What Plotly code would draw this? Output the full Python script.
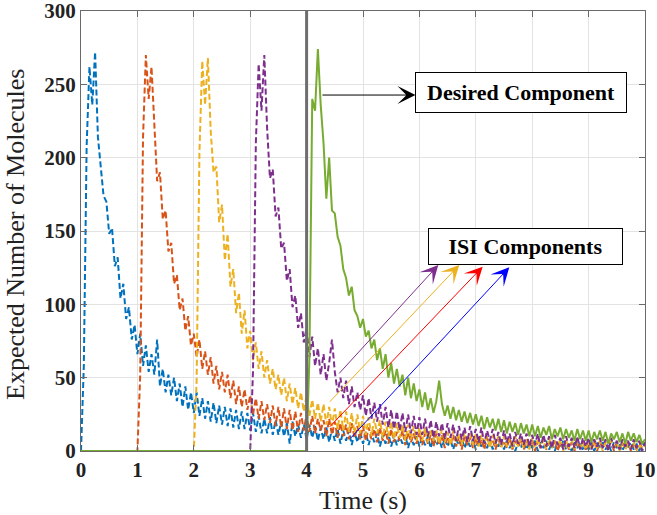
import plotly.graph_objects as go

# ---------------- data ----------------
dt = 0.05  # sampling step (s)

start_times = [0, 1, 2, 3, 4]
series_names = ["ISI 1", "ISI 2", "ISI 3", "ISI 4", "Desired"]

blue_vals = [
    0, 58, 208, 262, 236, 272, 214, 196, 174, 170, 148, 152, 126, 132, 104, 114, 90, 98, 76, 86,
    66, 80, 58, 72, 54, 66, 52, 76, 44, 56, 40, 52, 38, 50, 34, 46, 30, 44, 28, 40,
    26, 40, 24, 36, 22, 34, 20, 33, 19, 31, 18, 30, 17, 29, 16, 28, 15, 27, 15, 26,
    14, 26, 13, 24, 12, 22, 12, 23, 11, 21, 11, 20, 10, 19, 5, 20, 10, 18, 9, 18,
    8, 18, 9, 17, 7, 16, 8, 16, 6, 15, 7, 15, 5, 14, 7, 14, 4, 13, 6, 13,
    5, 13, 4, 12, 6, 12, 3, 11, 5, 12, 3, 11, 4, 10, 5, 11, 2, 10, 4, 10,
    3, 9, 4, 10, 2, 9, 4, 8, 2, 9, 3, 8, 1, 8, 4, 9, 2, 7, 3, 8,
    1, 8, 3, 7, 2, 8, 1, 7, 3, 8, 1, 7, 2, 7, 0, 6, 2, 7, 1, 6,
    2, 7, 0, 6, 2, 7, 1, 6, 0, 6, 2, 7, 1, 5, 0, 6, 2, 6, 0, 5,
    1, 6, 0, 5, 3, 6, 1, 5, 0, 6, 2, 5, 0, 5, 3, 6, 1, 5, 0, 6, 3,
]

orange_vals = [
    0, 52, 214, 270, 240, 262, 222, 184, 190, 158, 164, 136, 142, 114, 120, 96, 104, 82, 92, 72,
    80, 64, 76, 56, 68, 52, 64, 46, 58, 42, 54, 40, 52, 36, 48, 32, 44, 30, 42, 28,
    38, 25, 36, 22, 34, 21, 32, 19, 31, 17, 30, 16, 29, 15, 28, 14, 27, 13, 26, 14,
    25, 13, 24, 12, 22, 14, 21, 10, 22, 11, 20, 9, 19, 10, 18, 8, 19, 9, 17, 8,
    17, 7, 16, 8, 15, 6, 16, 7, 14, 5, 15, 6, 13, 7, 14, 4, 13, 6, 12, 5,
    13, 4, 12, 5, 11, 3, 12, 4, 11, 2, 10, 4, 11, 3, 10, 1, 10, 4, 9, 2,
    9, 3, 8, 1, 9, 4, 8, 1, 8, 3, 7, 2, 9, 1, 7, 3, 8, 1, 7, 2,
    8, 0, 7, 2, 8, 1, 6, 3, 7, 0, 6, 2, 7, 1, 6, 0, 7, 2, 6, 1,
    6, 1, 7, 0, 6, 2, 6, 1, 7, 0, 6, 1, 5, 2, 6, 0, 5, 1, 6, 2, 4,
]

yellow_vals = [
    0, 48, 204, 266, 236, 268, 218, 190, 194, 156, 168, 130, 148, 112, 124, 94, 108, 80, 96, 70,
    82, 62, 74, 56, 68, 50, 62, 46, 56, 42, 52, 38, 50, 34, 46, 32, 43, 29, 40, 27,
    38, 24, 35, 22, 33, 20, 32, 18, 30, 17, 29, 15, 28, 14, 27, 13, 26, 12, 25, 12,
    24, 11, 23, 10, 22, 12, 21, 9, 20, 10, 20, 8, 19, 9, 18, 7, 18, 8, 17, 7,
    16, 7, 16, 6, 15, 7, 14, 5, 15, 6, 13, 4, 14, 6, 12, 4, 13, 5, 12, 4,
    12, 3, 11, 5, 10, 2, 11, 4, 10, 2, 10, 3, 9, 1, 10, 3, 9, 2, 9, 1,
    9, 2, 8, 3, 8, 1, 9, 2, 7, 3, 8, 0, 7, 2, 8, 1, 7, 2, 6, 1,
    7, 1, 6, 2, 7, 0, 6, 1, 7, 2, 6, 0, 6, 1, 5, 2, 6, 0, 5, 1, 4,
]

purple_vals = [
    0, 55, 210, 264, 232, 270, 220, 186, 192, 160, 166, 138, 142, 116, 124, 98, 106, 84, 94, 74,
    84, 64, 78, 58, 70, 52, 66, 48, 60, 76, 54, 40, 50, 36, 48, 32, 44, 30, 40, 28,
    38, 24, 36, 22, 33, 20, 32, 18, 30, 16, 28, 15, 27, 14, 26, 13, 25, 12, 24, 11,
    23, 11, 22, 10, 21, 9, 20, 10, 19, 8, 19, 9, 18, 7, 17, 8, 16, 6, 17, 7,
    15, 6, 16, 5, 14, 7, 15, 5, 13, 4, 14, 6, 12, 3, 13, 5, 12, 4, 12, 3,
    11, 4, 12, 2, 11, 3, 10, 2, 11, 4, 9, 1, 10, 3, 9, 2, 10, 1, 9, 3,
    9, 1, 8, 3, 9, 2, 8, 0, 9, 2, 7, 1, 8, 3, 7, 1, 8, 2, 7, 0, 6,
]

green_vals = [
    0, 64, 240, 232, 274, 236, 210, 172, 200, 164, 162, 146, 140, 124, 118, 106, 112, 96, 92, 84,
    90, 78, 82, 70, 76, 62, 70, 56, 66, 50, 60, 46, 56, 44, 52, 38, 50, 36, 46, 34,
    42, 30, 40, 28, 36, 26, 34, 48, 32, 24, 31, 22, 30, 21, 28, 20, 27, 19, 26, 18,
    25, 17, 24, 15, 23, 16, 22, 14, 22, 13, 21, 12, 20, 13, 19, 11, 19, 12, 18, 10,
    18, 10, 17, 9, 16, 11, 17, 8, 15, 10, 16, 8, 15, 9, 14, 7, 15, 8, 14, 7,
    14, 6, 13, 8, 14, 7, 13, 5, 12, 8, 13, 6, 12, 5, 13, 7, 12, 6, 11, 5, 8,
]

series_values = [blue_vals, orange_vals, yellow_vals, purple_vals, green_vals]

x_ticks = [0, 1, 2, 3, 4, 5, 6, 7, 8, 9, 10]
y_ticks = [0, 50, 100, 150, 200, 250, 300]

# ---------------- styles ----------------
colors = ["#0072BD", "#D95319", "#EDB120", "#7E2F8E", "#77AC30"]
dashes = ["6px,3px", "6px,3px", "6px,3px", "6px,3px", "solid"]
serif = "Liberation Serif"
axis_col = "#6a6a6a"

fig = go.Figure()
for name, st, vals, col, dsh in zip(series_names, start_times, series_values, colors, dashes):
    xs = [st + i * dt for i in range(len(vals))]
    ys = list(vals)
    if st > 0:
        xs = [0] + xs
        ys = [0] + ys
    fig.add_trace(go.Scatter(x=xs, y=ys, mode="lines", name=name,
                             line=dict(color=col, width=2, dash=dsh),
                             showlegend=False, hoverinfo="skip"))

# vertical marker at t = 4 s (start of desired symbol)
fig.add_shape(type="line", x0=4, x1=4, y0=0, y1=300, xref="x", yref="y",
              line=dict(color="#6e6e6e", width=3))

annotations = []
# y-axis title
annotations.append(dict(x=-0.1152, y=0.491, xref="paper", yref="paper",
                        text="Expected Number of Molecules", textangle=-90,
                        showarrow=False, xanchor="center", yanchor="middle",
                        font=dict(family=serif, size=26, color="#222")))
# Desired component label + arrow
annotations.append(dict(x=7.796, y=244.1, xref="x", yref="y", text="Desired Component",
                        showarrow=False, font=dict(family=serif, size=22, color="black", weight="bold"),
                        bgcolor="white", bordercolor="black", borderwidth=1,
                        width=208, height=37, align="center", valign="middle"))
annotations.append(dict(x=5.93, y=242.7, ax=4.255, ay=242.7, xref="x", yref="y",
                        axref="x", ayref="y", text="", showarrow=True,
                        arrowhead=3, arrowsize=3, arrowwidth=1, arrowcolor="black"))
# ISI label + arrows
annotations.append(dict(x=7.88, y=139.4, xref="x", yref="y", text="ISI Components",
                        showarrow=False, font=dict(family=serif, size=22, color="black", weight="bold"),
                        bgcolor="white", bordercolor="black", borderwidth=1,
                        width=191, height=33, align="center", valign="middle"))
isi_arrows = [
    (6.335, 126.8, 4.551, 51.8, "#7E2F8E"),
    (6.707, 126.8, 4.385, 32.5, "#EDB120"),
    (7.122, 125.7, 4.385, 15.5, "#FF0000"),
    (7.594, 125.2, 4.762, 8.0, "#0000FF"),
]
for hx, hy, tx, ty, c in isi_arrows:
    annotations.append(dict(x=hx, y=hy, ax=tx, ay=ty, xref="x", yref="y",
                            axref="x", ayref="y", text="", showarrow=True,
                            arrowhead=3, arrowsize=3, arrowwidth=1, arrowcolor=c))

fig.update_layout(
    width=657, height=515,
    margin=dict(l=81, r=12, t=11, b=64),
    paper_bgcolor="white", plot_bgcolor="white",
    annotations=annotations,
    xaxis=dict(range=[0, 10], tickvals=x_ticks, ticks="inside", ticklen=6,
               tickcolor=axis_col, showline=True, linecolor=axis_col, linewidth=1,
               mirror="allticks", showgrid=True, gridcolor="#e3e3e3", gridwidth=1,
               zeroline=False, automargin=False, ticklabeloverflow="allow",
               tickfont=dict(family=serif, size=21, color="#222", weight="bold"),
               title=dict(text="Time (s)", font=dict(family=serif, size=26, color="#222"))),
    yaxis=dict(range=[0, 300], tickvals=y_ticks, ticks="inside", ticklen=6,
               tickcolor=axis_col, showline=True, linecolor=axis_col, linewidth=1,
               mirror="allticks", showgrid=True, gridcolor="#e3e3e3", gridwidth=1,
               zeroline=False, automargin=False, ticklabeloverflow="allow",
               tickfont=dict(family=serif, size=21, color="#222", weight="bold")),
)

fig.write_html("out.html")
